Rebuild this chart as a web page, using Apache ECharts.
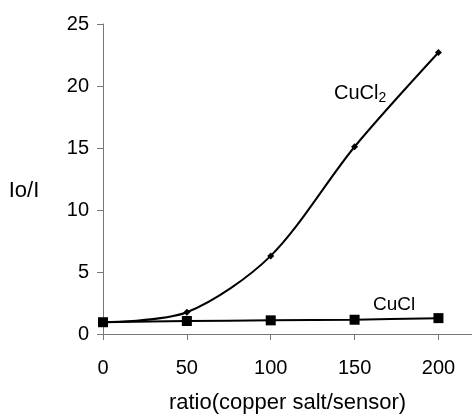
<!DOCTYPE html>
<html>
<head>
<meta charset="utf-8">
<script src="https://cdn.jsdelivr.net/npm/echarts@6/dist/echarts.min.js"></script>
<style>
  html, body { margin: 0; padding: 0; background: #fff; }
  #chart { width: 472px; height: 414px; }
</style>
</head>
<body>
<div id="chart"></div>
<script>
// data
const ratios = [0, 50, 100, 150, 200];
const cucl2 = [0.95, 1.75, 6.3, 15.1, 22.7];
const cucl = [0.95, 1.05, 1.1, 1.15, 1.28];
const xTicks = [0, 50, 100, 150, 200];

const font = 'Liberation Sans, Arial, sans-serif';

const chart = echarts.init(document.getElementById('chart'));

chart.setOption({
    backgroundColor: '#fff',
    animation: false,
    grid: { left: 103, right: 0, top: 24, bottom: 80, outerBoundsMode: 'none' },
    xAxis: {
        type: 'value',
        min: 0,
        max: 220,
        interval: 50,
        name: 'ratio(copper salt/sensor)',
        nameLocation: 'middle',
        nameGap: 58,
        nameTextStyle: { color: '#000', fontSize: 22, fontFamily: font },
        axisLine: { lineStyle: { color: '#777', width: 1 } },
        axisTick: { show: true, length: 6, customValues: xTicks, lineStyle: { color: '#777' } },
        axisLabel: { customValues: xTicks, margin: 24, color: '#000', fontSize: 20, fontFamily: font },
        splitLine: { show: false }
    },
    yAxis: {
        type: 'value',
        min: 0,
        max: 25,
        interval: 5,
        axisLine: { show: true, lineStyle: { color: '#777', width: 1 } },
        axisTick: { show: true, length: 6, lineStyle: { color: '#777' } },
        axisLabel: { margin: 14, color: '#000', fontSize: 20, fontFamily: font, padding: [0, 0, 5, 0] },
        splitLine: { show: false }
    },
    graphic: [
        {
            type: 'text',
            x: 24, y: 191,
            style: { text: 'Io/I', fill: '#000', font: '22px ' + font, align: 'center', verticalAlign: 'middle' }
        },
        {
            type: 'text',
            x: 334, y: 93,
            style: {
                text: '{a|CuCl}{b|2}',
                verticalAlign: 'middle',
                rich: {
                    a: { fontSize: 20, fontFamily: font, fill: '#000' },
                    b: { fontSize: 14, fontFamily: font, fill: '#000', padding: [11, 0, 0, 0] }
                }
            }
        },
        {
            type: 'text',
            x: 373, y: 305,
            style: { text: 'CuCl', fill: '#000', font: '19px ' + font, verticalAlign: 'middle' }
        }
    ],
    series: [
        {
            name: 'CuCl2',
            type: 'line',
            smooth: 0.3,
            data: ratios.map((r, i) => [r, cucl2[i]]),
            symbol: 'diamond',
            symbolSize: 7,
            lineStyle: { color: '#000', width: 2 },
            itemStyle: { color: '#000' },
            z: 2
        },
        {
            name: 'CuCl',
            type: 'line',
            smooth: 0.3,
            data: ratios.map((r, i) => [r, cucl[i]]),
            symbol: 'rect',
            symbolSize: 10,
            lineStyle: { color: '#000', width: 2 },
            itemStyle: { color: '#000' },
            z: 3
        }
    ]
});
</script>
</body>
</html>
